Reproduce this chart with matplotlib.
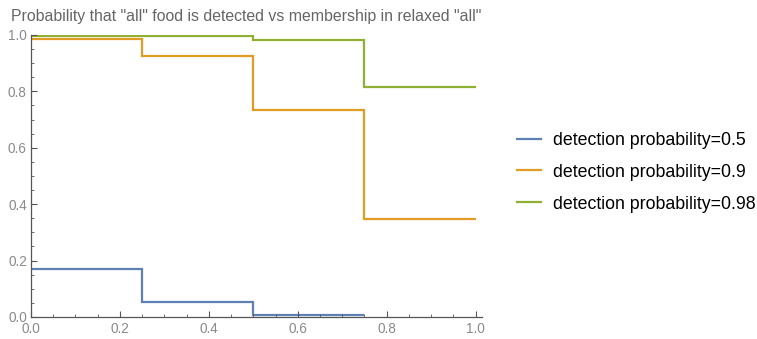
import numpy as np
import matplotlib
matplotlib.use("Agg")
import matplotlib.pyplot as plt
from matplotlib.ticker import MultipleLocator

plt.rcParams["font.family"] = ["Liberation Sans", "DejaVu Sans"]

# membership thresholds (bin edges) and step heights
edges = [0.0, 0.25, 0.5, 0.75, 1.0]
p05 = [0.17, 0.053, 0.006]
p09 = [0.986, 0.925, 0.734, 0.348]
p098 = [0.997, 0.997, 0.982, 0.816]
labels = ["detection probability=0.5", "detection probability=0.9",
          "detection probability=0.98"]
colors = ["#5E81B5", "#E19C24", "#8FB032"]

fig = plt.figure(figsize=(7.57, 3.39), dpi=100)
ax = fig.add_axes([0.041, 0.065, 0.596, 0.832])

series = [p05, p09, p098]
for vals, lab, col in zip(series, labels, colors):
    ax.stairs(vals, edges[:len(vals) + 1], baseline=None, color=col,
              lw=1.6, label=lab)

ax.set_xlim(0, 1.015)
ax.set_ylim(0, 1.0)
ax.xaxis.set_major_locator(MultipleLocator(0.2))
ax.xaxis.set_minor_locator(MultipleLocator(0.05))
ax.yaxis.set_major_locator(MultipleLocator(0.2))
ax.yaxis.set_minor_locator(MultipleLocator(0.05))
ax.xaxis.set_major_formatter(lambda v, p: f"{v:.1f}")
ax.yaxis.set_major_formatter(lambda v, p: f"{v:.1f}")

for s in ["top", "right"]:
    ax.spines[s].set_visible(False)
for s in ["left", "bottom"]:
    ax.spines[s].set_color("#555555")
    ax.spines[s].set_linewidth(0.9)
ax.tick_params(which="both", direction="in", colors="#555555",
               labelcolor="#8a8a8a", labelsize=9.8)
ax.tick_params(which="major", length=4, width=0.8)
ax.tick_params(which="minor", length=2.2, width=0.6)
ax.tick_params(axis="y", pad=3)

ax.set_title('Probability that "all" food is detected vs membership in relaxed "all"',
             fontsize=11.4, color="#666666", pad=10, x=0.477)

fig.legend(loc="center left", bbox_to_anchor=(0.662, 0.492), frameon=False,
           fontsize=12.8, handlelength=1.35, handletextpad=0.67,
           labelspacing=0.84)

fig.savefig("out.png", dpi=100)
